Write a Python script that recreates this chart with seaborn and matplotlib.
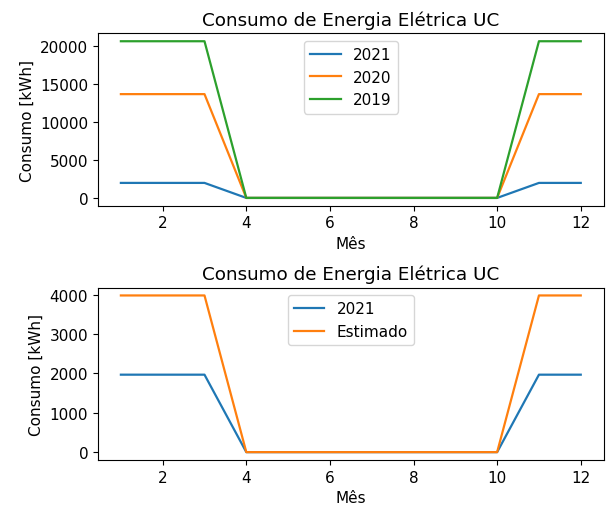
import matplotlib
matplotlib.use("Agg")
import matplotlib.pyplot as plt
import seaborn as sns
import pandas as pd

meses = [1, 2, 3, 4, 5, 6, 7, 8, 9, 10, 11, 12]
consumo_2021 = [1970, 1970, 1970, 0, 0, 0, 0, 0, 0, 0, 1970, 1970]
consumo_2020 = [13620, 13620, 13620, 0, 0, 0, 0, 0, 0, 0, 13620, 13620]
consumo_2019 = [20560, 20560, 20560, 0, 0, 0, 0, 0, 0, 0, 20560, 20560]
consumo_estimado = [3985, 3985, 3985, 0, 0, 0, 0, 0, 0, 0, 3985, 3985]

titulo = "Consumo de Energia Elétrica UC"
xlabel = "Mês"
ylabel = "Consumo [kWh]"

plt.rcParams['font.family'] = ['DejaVu Sans']
plt.rcParams['font.size'] = 11
colors = sns.color_palette("tab10")

fig, (ax1, ax2) = plt.subplots(2, 1, figsize=(6.08, 5.06), dpi=100)
fig.subplots_adjust(left=0.161, right=0.993, top=0.932, bottom=0.089, hspace=0.475)

df1 = pd.DataFrame({"Mês": meses, "2021": consumo_2021, "2020": consumo_2020, "2019": consumo_2019})
for i, s in enumerate(["2021", "2020", "2019"]):
    sns.lineplot(data=df1, x="Mês", y=s, ax=ax1, label=s, color=colors[i], linewidth=1.6)
ax1.set_title(titulo)
ax1.set_xlabel(xlabel)
ax1.set_ylabel(ylabel)
ax1.legend(loc="upper center")

df2 = pd.DataFrame({"Mês": meses, "2021": consumo_2021, "Estimado": consumo_estimado})
for i, s in enumerate(["2021", "Estimado"]):
    sns.lineplot(data=df2, x="Mês", y=s, ax=ax2, label=s, color=colors[i], linewidth=1.6)
ax2.set_title(titulo)
ax2.set_xlabel(xlabel)
ax2.set_ylabel(ylabel)
ax2.legend(loc="upper center")

fig.savefig("out.png", dpi=100)
